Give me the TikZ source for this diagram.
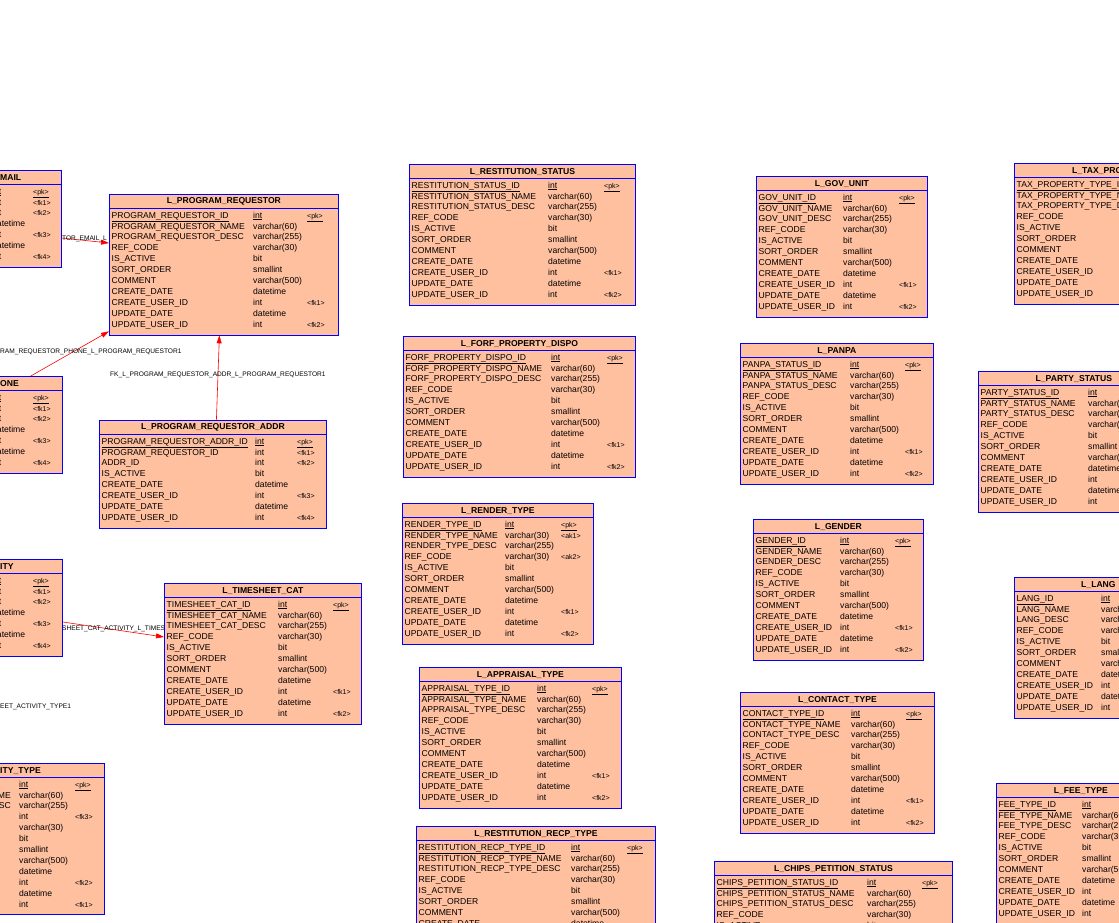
\documentclass[tikz,border=0pt]{standalone}
\usepackage{fontspec}
\setmainfont{Liberation Sans}
\usetikzlibrary{arrows.meta,backgrounds}

\definecolor{erfill}{RGB}{255,192,160}
\definecolor{erblue}{RGB}{0,0,255}
\definecolor{erred}{RGB}{255,0,0}

\newcommand\nocell{}
\newcommand\erkey[2]{\ifnum#1=0 \underline{#2}\else #2\fi}

\tikzset{
	tblbox/.style={draw=erblue, fill=erfill, line width=0.8pt, inner sep=0pt},
	tblline/.style={draw=erblue, line width=0.8pt},
	tbltitle/.style={inner sep=0pt, font=\bfseries\fontsize{8.6}{9}\selectfont},
	cell/.style={anchor=west, inner sep=0pt, text height=6.3pt, text depth=2pt, font=\fontsize{8.6}{9}\selectfont},
	keycell/.style={cell, font=\fontsize{7}{8}\selectfont},
	fk/.style={draw=erred, line width=0.6pt, -{Triangle[length=8pt,width=5pt]}},
	fklabel/.style={anchor=west, inner sep=0pt, font=\fontsize{6.6}{7}\selectfont}
}

% name, position, width, rows, type column, key column (0 = none), title, cells
\newcommand\ertable[8]{%
	\node[tblbox, anchor=north west, minimum width=#3pt,
		minimum height={31.5pt+10.9pt*(#4-1)}] (#1) at #2 {};
	\draw[tblline] ([yshift=-14pt]#1.north west) -- ([yshift=-14pt]#1.north east);
	\node[tbltitle] (#1-title) at ([yshift=-7.8pt]#1.north) {#7};
	\foreach \c/\t/\k [count=\i from 0] in {#8}{
		\node[cell] at ([xshift=2.5pt,yshift={-22pt-10.9pt*\i}]#1.north west) {\erkey{\i}{\c}};
		\node[cell] at ([xshift=#5pt,yshift={-22pt-10.9pt*\i}]#1.north west) {\erkey{\i}{\t}};
		\ifnum#6>0
			\node[keycell] at ([xshift=#6pt,yshift={-22pt-10.9pt*\i}]#1.north west) {\erkey{\i}{\k}};
		\fi
	}%
}
\newcommand\erstd[7]{%
	\ertable{#1}{#2}{#3}{11}{#4}{#5}{#6}{#7\_ID/int/<pk>, #7\_NAME/varchar(60)/\nocell,
		#7\_DESC/varchar(255)/\nocell, REF\_CODE/varchar(30)/\nocell, IS\_ACTIVE/bit/\nocell,
		SORT\_ORDER/smallint/\nocell, COMMENT/varchar(500)/\nocell, CREATE\_DATE/datetime/\nocell,
		CREATE\_USER\_ID/int/<fk1>, UPDATE\_DATE/datetime/\nocell, UPDATE\_USER\_ID/int/<fk2>}%
}

\begin{document}
\begin{tikzpicture}[x=1pt,y=-1pt]
	\useasboundingbox (0,0) rectangle (1119,923);
	\clip (0,0) rectangle (1119,923);

	% left column, cut by the edge
	\ertable{emailtbl}{(-150,170)}{211}{7}{142}{183}{}{\nocell/int/<pk>, \nocell/int/<fk1>, \nocell/int/<fk2>, \nocell/datetime/\nocell, \nocell/int/<fk3>, \nocell/datetime/\nocell, \nocell/int/<fk4>}
	\node[tbltitle, anchor=west] (emailname) at (0,177.8) {MAIL};
	\ertable{phonetbl}{(-150,376)}{212}{7}{142}{183}{}{\nocell/int/<pk>, \nocell/int/<fk1>, \nocell/int/<fk2>, \nocell/datetime/\nocell, \nocell/int/<fk3>, \nocell/datetime/\nocell, \nocell/int/<fk4>}
	\node[tbltitle, anchor=west] (phonename) at (0,383.8) {ONE};
	\ertable{actvtbl}{(-150,559)}{212}{7}{142}{183}{}{\nocell/int/<pk>, \nocell/int/<fk1>, \nocell/int/<fk2>, \nocell/datetime/\nocell, \nocell/int/<fk3>, \nocell/datetime/\nocell, \nocell/int/<fk4>}
	\node[tbltitle, anchor=west] (actvname) at (0,566.8) {ITY};
	\ertable{acttypetbl}{(-150,763)}{254}{12}{169}{225}{}{\nocell/int/<pk>, \nocell/varchar(60)/\nocell, \nocell/varchar(255)/\nocell, \nocell/int/<fk3>, \nocell/varchar(30)/\nocell, \nocell/bit/\nocell, \nocell/smallint/\nocell, \nocell/varchar(500)/\nocell, \nocell/datetime/\nocell, \nocell/int/<fk2>, \nocell/datetime/\nocell, \nocell/int/<fk1>}
	\node[tbltitle, anchor=west] (acttypename) at (0,770.8) {ITY\_TYPE};
	\node[cell, anchor=east] (acttypeme) at (11,795.9) {ME};
	\node[cell, anchor=east] (acttypesc) at (11,806.8) {SC};

	\erstd{progreq}{(109,194)}{229}{144}{198}{L\_PROGRAM\_REQUESTOR}{PROGRAM\_REQUESTOR}
	\ertable{reqaddr}{(99,420)}{227}{8}{156}{198}{L\_PROGRAM\_REQUESTOR\_ADDR}{PROGRAM\_REQUESTOR\_ADDR\_ID/int/<pk>, PROGRAM\_REQUESTOR\_ID/int/<fk1>, ADDR\_ID/int/<fk2>, IS\_ACTIVE/bit/\nocell, CREATE\_DATE/datetime/\nocell, CREATE\_USER\_ID/int/<fk3>, UPDATE\_DATE/datetime/\nocell, UPDATE\_USER\_ID/int/<fk4>}
	\erstd{tscat}{(164,583)}{197}{114}{169}{L\_TIMESHEET\_CAT}{TIMESHEET\_CAT}

	% middle columns
	\erstd{reststat}{(409,164)}{226}{139}{195}{L\_RESTITUTION\_STATUS}{RESTITUTION\_STATUS}
	\erstd{forfdispo}{(403,336)}{232}{148}{204}{L\_FORF\_PROPERTY\_DISPO}{FORF\_PROPERTY\_DISPO}
	\ertable{rendertype}{(402,503)}{191}{11}{103}{159}{L\_RENDER\_TYPE}{RENDER\_TYPE\_ID/int/<pk>, RENDER\_TYPE\_NAME/varchar(30)/<ak1>, RENDER\_TYPE\_DESC/varchar(255)/\nocell, REF\_CODE/varchar(30)/<ak2>, IS\_ACTIVE/bit/\nocell, SORT\_ORDER/smallint/\nocell, COMMENT/varchar(500)/\nocell, CREATE\_DATE/datetime/\nocell, CREATE\_USER\_ID/int/<fk1>, UPDATE\_DATE/datetime/\nocell, UPDATE\_USER\_ID/int/<fk2>}
	\erstd{appraisal}{(419,667)}{202}{118}{173}{L\_APPRAISAL\_TYPE}{APPRAISAL\_TYPE}
	\erstd{restrecp}{(416,826)}{239}{155}{211}{L\_RESTITUTION\_RECP\_TYPE}{RESTITUTION\_RECP\_TYPE}

	\erstd{govunit}{(756,176)}{171}{87}{143}{L\_GOV\_UNIT}{GOV\_UNIT}
	\erstd{panpa}{(740,343)}{193}{110}{165}{L\_PANPA}{PANPA\_STATUS}
	\erstd{gender}{(753,519)}{170}{87}{142}{L\_GENDER}{GENDER}
	\erstd{contact}{(740,692)}{194}{111}{166}{L\_CONTACT\_TYPE}{CONTACT\_TYPE}
	\erstd{chips}{(714,861)}{238}{153}{208}{L\_CHIPS\_PETITION\_STATUS}{CHIPS\_PETITION\_STATUS}

	% right column, cut by the edge
	\ertable{taxprop}{(1014,163)}{228}{11}{160}{0}{}{TAX\_PROPERTY\_TYPE\_ID/\nocell/\nocell, TAX\_PROPERTY\_TYPE\_NAME/\nocell/\nocell, TAX\_PROPERTY\_TYPE\_DESC/\nocell/\nocell, REF\_CODE/\nocell/\nocell, IS\_ACTIVE/\nocell/\nocell, SORT\_ORDER/\nocell/\nocell, COMMENT/\nocell/\nocell, CREATE\_DATE/\nocell/\nocell, CREATE\_USER\_ID/\nocell/\nocell, UPDATE\_DATE/\nocell/\nocell, UPDATE\_USER\_ID/\nocell/\nocell}
	\node[tbltitle, anchor=west] (taxname) at (1072,170.8) {L\_TAX\_PRO};
	\erstd{partystat}{(978,371)}{191}{110}{0}{L\_PARTY\_STATUS}{PARTY\_STATUS}
	\erstd{lang}{(1014,577)}{168}{87}{0}{L\_LANG}{LANG}
	\erstd{feetype}{(996,783)}{169}{86}{0}{L\_FEE\_TYPE}{FEE\_TYPE}

	\begin{scope}[on background layer]
		\draw[fk] ([yshift=-68pt]emailtbl.north east) -- ([yshift=-49pt]progreq.north west);
		\node[fklabel] (emaillbl) at (62,239) {TOR\_EMAIL\_L};
		\draw[fk] ([xshift=-32pt]phonetbl.north east) -- ([yshift=4pt]progreq.south west);
		\node[fklabel] (phonelbl) at (0,352) {RAM\_REQUESTOR\_PHONE\_L\_PROGRAM\_REQUESTOR1};
		\draw[fk] ([xshift=3.5pt]reqaddr.north) -- ([xshift=-4.5pt]progreq.south);
		\node[fklabel] (addrlbl) at (110,375) {FK\_L\_PROGRAM\_REQUESTOR\_ADDR\_L\_PROGRAM\_REQUESTOR1};
		\draw[fk] ([yshift=-63pt]actvtbl.north east) -- ([yshift=-54pt]tscat.north west);
		\node[fklabel] (catlbl) at (62,629) {SHEET\_CAT\_ACTIVITY\_L\_TIMES};
		\node[fklabel] (typelbl) at (0,707) {EET\_ACTIVITY\_TYPE1};
	\end{scope}
\end{tikzpicture}
\end{document}
